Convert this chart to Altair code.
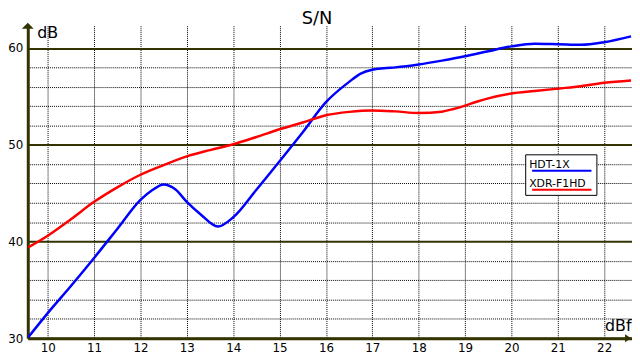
import altair as alt
import pandas as pd

# ---- data ----
series_names = ["HDT-1X", "XDR-F1HD"]

hdt_x = [9.58, 10, 10.5, 11, 11.5, 12, 12.25, 12.5, 12.75, 13, 13.3, 13.67, 14, 14.5,
         15, 15.5, 16, 16.5, 16.75, 17, 17.25, 17.5, 18, 18.5, 19, 19.5, 20, 20.5, 21, 21.5, 22, 22.58]
hdt_y = [30.1, 32.6, 35.4, 38.3, 41.3, 44.3, 45.3, 45.9, 45.4, 44.1, 42.8, 41.55, 42.5, 45.35,
         48.3, 51.3, 54.4, 56.5, 57.35, 57.75, 57.9, 58.0, 58.3, 58.7, 59.15, 59.67, 60.17, 60.45,
         60.4, 60.33, 60.6, 61.2]

xdr_x = [9.58, 10, 10.5, 11, 11.5, 12, 12.5, 13, 13.5, 14, 14.5, 15, 15.5, 16, 16.5,
         17, 17.5, 18, 18.5, 18.75, 19, 19.25, 19.5, 20, 20.5, 21, 21.5, 22, 22.58]
xdr_y = [39.4, 40.6, 42.3, 44.1, 45.6, 46.9, 47.9, 48.8, 49.45, 50.05, 50.8, 51.6, 52.3, 53.05, 53.4,
         53.55, 53.45, 53.28, 53.42, 53.7, 54.05, 54.45, 54.8, 55.3, 55.55, 55.8, 56.05, 56.4, 56.65]

x_ticks = list(range(10, 23))
y_grid = list(range(30, 61, 2))

X_MIN, X_MAX = 9.57, 22.6
Y_MIN, Y_MAX = 30, 62.3

AXIS_COLOR = "#333300"
FONT = "DejaVu Sans"

df = pd.concat([
    pd.DataFrame({"x": hdt_x, "y": hdt_y, "series": series_names[0]}),
    pd.DataFrame({"x": xdr_x, "y": xdr_y, "series": series_names[1]}),
])

x_scale = alt.Scale(domain=[X_MIN, X_MAX], nice=False, zero=False)
y_scale = alt.Scale(domain=[Y_MIN, Y_MAX], nice=False, zero=False)

x_axis = alt.Axis(
    values=x_ticks, format="d", ticks=False, domainColor=AXIS_COLOR, domainWidth=3,
    grid=True, gridColor="#000000", gridDash=[1, 1], gridWidth=1,
    labelFont=FONT, labelFontSize=12, labelColor="#000000", labelPadding=4,
    title="dBf", titleFont=FONT, titleFontSize=16, titleFontWeight="normal",
    titleColor="#000000", titleX=610, titleY=-8, titleAlign="right",
    titleBaseline="alphabetic", titleAngle=0,
)

y_axis = alt.Axis(
    values=y_grid, format="d", tickCount=40, ticks=False, domainColor=AXIS_COLOR, domainWidth=3,
    grid=True,
    gridColor={"condition": {"test": "datum.value % 10 === 0", "value": AXIS_COLOR}, "value": "#000000"},
    gridDash={"condition": {"test": "datum.value % 10 === 0", "value": []}, "value": [1, 1]},
    gridWidth={"condition": {"test": "datum.value % 10 === 0", "value": 2}, "value": 1},
    labelExpr="datum.value % 10 === 0 ? datum.label : ''", labelOverlap=False,
    labelFont=FONT, labelFontSize=12, labelColor="#000000", labelPadding=5,
    title="dB", titleFont=FONT, titleFontSize=16, titleFontWeight="normal",
    titleColor="#000000", titleX=9, titleY=12, titleAlign="left",
    titleBaseline="alphabetic", titleAngle=0,
)

# top axis used only to carry the chart title "S/N"
top_axis = alt.Axis(
    orient="top", domain=False, ticks=False, labels=False, grid=False,
    title="S/N", titleFont=FONT, titleFontSize=18, titleFontWeight="normal",
    titleColor="#000000", titleX=292, titleY=-2, titleAlign="center",
    titleBaseline="alphabetic", titleAngle=0,
)

lines = alt.Chart(df).mark_line(interpolate="monotone", strokeWidth=2.5, clip=True).encode(
    x=alt.X("x:Q", scale=x_scale, axis=x_axis),
    y=alt.Y("y:Q", scale=y_scale, axis=y_axis),
    color=alt.Color(
        "series:N",
        scale=alt.Scale(domain=series_names, range=["#0000ff", "#ff0000"]),
        legend=alt.Legend(
            title=" ", titleFontSize=1, titlePadding=3,
            orient="none", legendX=503, legendY=130,
            fillColor="#ffffff", strokeColor="#000000", padding=1,
            symbolType="M0,0.34H7.5", symbolSize=256, symbolStrokeWidth=2,
            symbolOffset={"expr": "-3"}, labelOffset={"expr": "-12"},
            labelBaseline="alphabetic",
            labelFont=FONT, labelFontSize=11, labelColor="#000000", rowPadding=3,
        ),
    ),
)

# arrow heads at the ends of the axes
arrow_df = pd.DataFrame({
    "x": [X_MIN, 22.515],
    "y": [Y_MAX, Y_MIN],
    "shape": ["M0,-0.5L1,0.5L-1,0.5Z", "M0.5,0L-0.5,-0.67L-0.5,0.67Z"],
})
arrows = alt.Chart(arrow_df).mark_point(filled=True, opacity=1, size=144, color=AXIS_COLOR).encode(
    x=alt.X("x:Q", scale=x_scale, axis=top_axis),
    y=alt.Y("y:Q", scale=y_scale),
    shape=alt.Shape("shape:N", scale=None),
)

chart = alt.layer(lines, arrows).resolve_axis(x="independent").properties(
    width=611, height=316,
    autosize=alt.AutoSizeParams(type="none"),
    padding={"left": 20, "top": 16, "right": 0, "bottom": 18},
).configure_view(stroke=None)

chart.save("out.html", embed_options={"renderer": "svg", "actions": False})
